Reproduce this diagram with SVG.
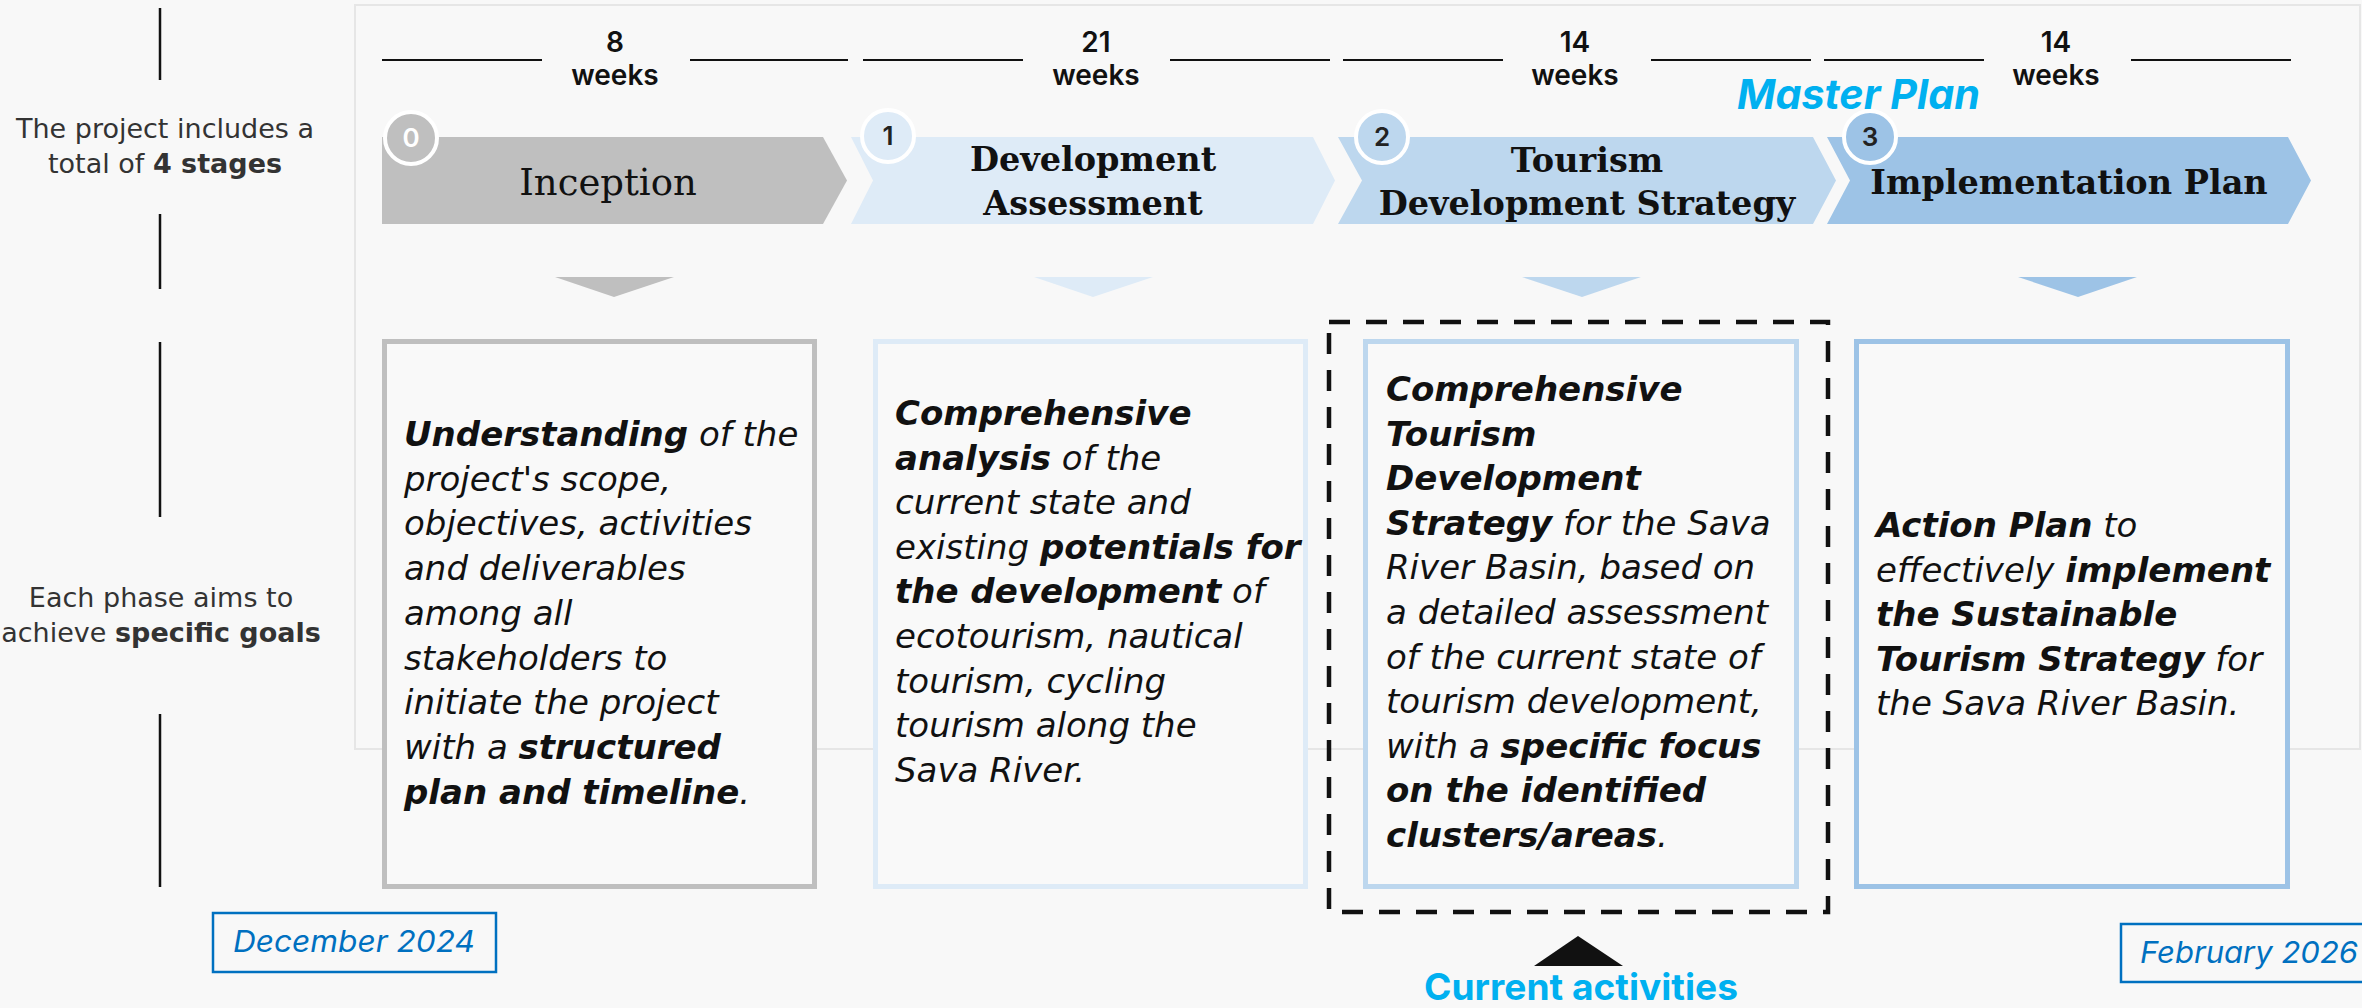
<svg xmlns="http://www.w3.org/2000/svg" width="2362" height="1008" viewBox="0 0 2362 1008">
<style>
.lbl{font-family:"DejaVu Sans","Noto Sans",sans-serif;font-size:27px;fill:#333;text-anchor:middle}
.wk{font-family:Inter,"DejaVu Sans",sans-serif;font-size:28px;font-weight:600;fill:#111;text-anchor:middle}
.num{font-family:Inter,"DejaVu Sans",sans-serif;font-size:26px;font-weight:600;fill:#222;text-anchor:middle}
.ttl{font-family:"DejaVu Serif","Liberation Serif",serif;font-size:33.5px;font-weight:bold;fill:#111;text-anchor:middle}
.body{font-family:"DejaVu Sans","Noto Sans",sans-serif;font-size:34px;font-style:italic;fill:#111}
.b{font-weight:bold}
.date{font-family:Inter,"DejaVu Sans",sans-serif;font-size:30px;font-style:italic;fill:#0070c0}
.hl{font-family:Inter,"DejaVu Sans",sans-serif;font-weight:bold;fill:#00b0f0}
.tick{stroke:#111;stroke-width:2}
.vl{stroke:#111;stroke-width:2.5}
.box{stroke-width:5;fill:#f9f9f9}
</style>
<rect x="0" y="0" width="2362" height="1008" fill="#f8f8f8"/>
<rect x="355" y="5" width="2005" height="744" fill="#f8f8f8" stroke="#e6e6e6" stroke-width="2"/>

<g id="left-labels">
<line class="vl" x1="160" y1="8" x2="160" y2="80"/>
<line class="vl" x1="160" y1="214" x2="160" y2="289"/>
<line class="vl" x1="160" y1="342" x2="160" y2="517"/>
<line class="vl" x1="160" y1="714" x2="160" y2="887"/>
<text class="lbl" x="165" y="138">The project includes a</text>
<text class="lbl" x="165" y="173">total of <tspan font-weight="bold">4 stages</tspan></text>
<text class="lbl" x="161" y="607">Each phase aims to</text>
<text class="lbl" x="161" y="642">achieve <tspan font-weight="bold">specific goals</tspan></text>
</g>

<g id="durations">
<line class="tick" x1="382" y1="60" x2="542" y2="60"/><line class="tick" x1="690" y1="60" x2="848" y2="60"/>
<text class="wk" x="615" y="52">8</text><text class="wk" x="615" y="85">weeks</text>
<line class="tick" x1="863" y1="60" x2="1023" y2="60"/><line class="tick" x1="1170" y1="60" x2="1330" y2="60"/>
<text class="wk" x="1096" y="52">21</text><text class="wk" x="1096" y="85">weeks</text>
<line class="tick" x1="1343" y1="60" x2="1503" y2="60"/><line class="tick" x1="1651" y1="60" x2="1811" y2="60"/>
<text class="wk" x="1575" y="52">14</text><text class="wk" x="1575" y="85">weeks</text>
<line class="tick" x1="1824" y1="60" x2="1984" y2="60"/><line class="tick" x1="2131" y1="60" x2="2291" y2="60"/>
<text class="wk" x="2056" y="52">14</text><text class="wk" x="2056" y="85">weeks</text>
</g>

<text id="master-plan" class="hl" x="1737" y="109" font-size="41" font-style="italic" textLength="243" lengthAdjust="spacingAndGlyphs">Master Plan</text>

<g id="stage0">
<polygon points="382,137 823,137 847,180.5 823,224 382,224" fill="#bfbfbf"/>
<circle cx="411" cy="138" r="26" fill="#bfbfbf" stroke="#fff" stroke-width="4"/>
<text class="num" x="411" y="147" style="fill:#fff">0</text>
<text class="ttl" x="608" y="195" style="font-weight:normal;font-size:37px">Inception</text>
</g>
<g id="stage1">
<polygon points="851,137 1313,137 1335,180.5 1313,224 851,224 873,180.5" fill="#deebf7"/>
<circle cx="888" cy="136" r="26" fill="#deebf7" stroke="#fff" stroke-width="4"/>
<text class="num" x="888" y="145">1</text>
<text class="ttl" x="1093" y="171">Development</text>
<text class="ttl" x="1093" y="215">Assessment</text>
</g>
<g id="stage2">
<polygon points="1338,137 1813,137 1836,180.5 1813,224 1338,224 1362,180.5" fill="#bdd7ee"/>
<circle cx="1382" cy="137" r="26" fill="#bdd7ee" stroke="#fff" stroke-width="4"/>
<text class="num" x="1382" y="146">2</text>
<text class="ttl" x="1587" y="172">Tourism</text>
<text class="ttl" x="1587" y="215">Development Strategy</text>
</g>
<g id="stage3">
<polygon points="1827,137 2288,137 2311,180.5 2288,224 1827,224 1850,180.5" fill="#9dc3e6"/>
<circle cx="1870" cy="137" r="26" fill="#9dc3e6" stroke="#fff" stroke-width="4"/>
<text class="num" x="1870" y="146">3</text>
<text class="ttl" x="2069" y="194">Implementation Plan</text>
</g>

<g id="connectors">
<polygon points="555,277 674,277 614,297" fill="#bfbfbf"/>
<polygon points="1034,277 1153,277 1093,297" fill="#deebf7"/>
<polygon points="1522,277 1641,277 1582,297" fill="#bdd7ee"/>
<polygon points="2018,277 2137,277 2078,297" fill="#9dc3e6"/>
<polygon points="1578,936 1623,966 1534,966" fill="#111"/>
</g>

<g id="goal0">
<rect class="box" x="384.5" y="341.5" width="430" height="545" stroke="#bfbfbf"/>
<text class="body" x="404" y="446"><tspan class="b">Understanding</tspan> of the</text>
<text class="body" x="404" y="490.7">project's scope,</text>
<text class="body" x="404" y="535.4">objectives, activities</text>
<text class="body" x="404" y="580.1">and deliverables</text>
<text class="body" x="404" y="624.8">among all</text>
<text class="body" x="404" y="669.5">stakeholders to</text>
<text class="body" x="404" y="714.2">initiate the project</text>
<text class="body" x="404" y="758.9">with a <tspan class="b">structured</tspan></text>
<text class="body" x="404" y="803.6"><tspan class="b">plan and timeline</tspan>.</text>
</g>
<g id="goal1">
<rect class="box" x="875.5" y="341.5" width="430" height="545" stroke="#deebf7"/>
<text class="body" x="895" y="425"><tspan class="b">Comprehensive</tspan></text>
<text class="body" x="895" y="469.6"><tspan class="b">analysis</tspan> of the</text>
<text class="body" x="895" y="514.2">current state and</text>
<text class="body" x="895" y="558.8">existing <tspan class="b">potentials for</tspan></text>
<text class="body" x="895" y="603.4"><tspan class="b">the development</tspan> of</text>
<text class="body" x="895" y="648">ecotourism, nautical</text>
<text class="body" x="895" y="692.6">tourism, cycling</text>
<text class="body" x="895" y="737.2">tourism along the</text>
<text class="body" x="895" y="781.8">Sava River.</text>
</g>
<g id="goal2">
<rect class="box" x="1365.5" y="341.5" width="431" height="545" stroke="#bdd7ee"/>
<text class="body" x="1386" y="401"><tspan class="b">Comprehensive</tspan></text>
<text class="body" x="1386" y="445.6"><tspan class="b">Tourism</tspan></text>
<text class="body" x="1386" y="490.2"><tspan class="b">Development</tspan></text>
<text class="body" x="1386" y="534.8"><tspan class="b">Strategy</tspan> for the Sava</text>
<text class="body" x="1386" y="579.4">River Basin, based on</text>
<text class="body" x="1386" y="624">a detailed assessment</text>
<text class="body" x="1386" y="668.6">of the current state of</text>
<text class="body" x="1386" y="713.2">tourism development,</text>
<text class="body" x="1386" y="757.8">with a <tspan class="b">specific focus</tspan></text>
<text class="body" x="1386" y="802.4"><tspan class="b">on the identified</tspan></text>
<text class="body" x="1386" y="847"><tspan class="b">clusters/areas</tspan>.</text>
</g>
<g id="goal3">
<rect class="box" x="1856.5" y="341.5" width="431" height="545" stroke="#9dc3e6"/>
<text class="body" x="1876" y="537"><tspan class="b">Action Plan</tspan> to</text>
<text class="body" x="1876" y="581.5">effectively <tspan class="b">implement</tspan></text>
<text class="body" x="1876" y="626"><tspan class="b">the Sustainable</tspan></text>
<text class="body" x="1876" y="670.5"><tspan class="b">Tourism Strategy</tspan> for</text>
<text class="body" x="1876" y="715">the Sava River Basin.</text>
</g>

<g id="current">
<rect x="1329" y="322" width="499" height="590" fill="none" stroke="#111" stroke-width="4.5" stroke-dasharray="21 16"/>
<text class="hl" x="1581" y="1000" font-size="37" text-anchor="middle" textLength="314" lengthAdjust="spacingAndGlyphs">Current activities</text>
</g>

<g id="start-date">
<rect x="213" y="913" width="283" height="59" fill="none" stroke="#0070c0" stroke-width="2.5"/>
<text class="date" x="354" y="952" text-anchor="middle" textLength="242" lengthAdjust="spacingAndGlyphs">December 2024</text>
</g>
<g id="end-date">
<rect x="2121" y="924" width="260" height="58" fill="none" stroke="#0070c0" stroke-width="2.5"/>
<text class="date" x="2140" y="963" textLength="218" lengthAdjust="spacingAndGlyphs">February 2026</text>
</g>
</svg>
